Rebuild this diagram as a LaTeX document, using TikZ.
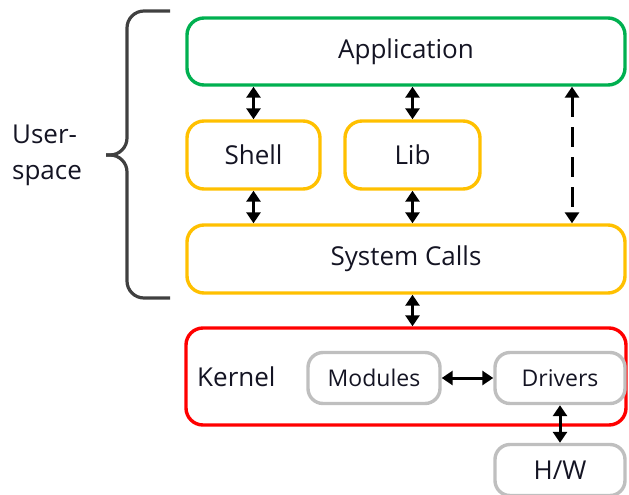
\documentclass[tikz,border=0pt]{standalone}
\usepackage{fontspec}
\setmainfont{Open Sans}
\usepackage{xcolor}
\usepackage{tikz}
\usetikzlibrary{arrows.meta,positioning,calc}

\definecolor{appgreen}{RGB}{0,176,80}
\definecolor{usrorange}{RGB}{255,192,0}
\definecolor{kred}{RGB}{255,0,0}
\definecolor{hwgray}{RGB}{191,191,191}
\definecolor{brgray}{RGB}{64,64,64}
\definecolor{txt}{RGB}{20,20,35}

\begin{document}
\begin{tikzpicture}[
  x=1pt, y=-1pt,
  font=\fontsize{26}{30}\selectfont, text=txt,
  box/.style={draw, rounded corners=17pt, line width=3.4pt, align=center,
              inner sep=0pt},
  appbox/.style={box, draw=appgreen},
  usrbox/.style={box, draw=usrorange},
  kbox/.style={box, draw=kred},
  hwbox/.style={box, draw=hwgray, rounded corners=15pt,
                font=\fontsize{23}{27}\selectfont},
  lbl/.style={inner sep=0pt, align=left},
  ar/.style={{Triangle[length=11pt,width=14pt]}-{Triangle[length=11pt,width=14pt]},
             line width=3pt},
  dar/.style={ar, dash pattern=on 20pt off 10pt},
  brc/.style={line width=3.2pt, draw=brgray, rounded corners=17pt}
]
\useasboundingbox (0,0) rectangle (629,495);

% --- user space ---------------------------------------------------------
\node[appbox, minimum width=438pt, minimum height=67pt] (app) at (406,51.5) {Application};
\node[usrbox, minimum width=133pt, minimum height=68pt] (shell) at (253.5,155) {Shell};
\node[usrbox, minimum width=135pt, minimum height=68pt] (lib) at (412.5,155) {Lib};
\node[usrbox, minimum width=438pt, minimum height=68pt] (sys) at (406,259) {System Calls};

% --- kernel -------------------------------------------------------------
\node[kbox, minimum width=440pt, minimum height=97pt] (kern) at (406,376.5) {};
\node[lbl, anchor=west] (klbl) at (197,377) {Kernel};
\node[hwbox, minimum width=132pt, minimum height=51pt] (mod) at (374,378) {Modules};
\node[hwbox, minimum width=130pt, minimum height=51pt] (drv) at (560,378) {Drivers};
\node[hwbox, minimum width=130pt, minimum height=51pt, font=\fontsize{26}{30}\selectfont] (hw) at (560,470) {H/W};

% --- side label ---------------------------------------------------------
\node[lbl, font=\fontsize{26}{36}\selectfont] (usr) at (47,155) {User-\\space};
\draw[brc] (170,11) -- (127,11) -- (127,155) -- (106,155);
\draw[brc] (106,155) -- (127,155) -- (127,298) -- (170,298);

% --- connectors ---------------------------------------------------------
\coordinate (dx) at (572,0);
\draw[ar] (app.south -| shell) -- (shell.north);
\draw[ar] (app.south -| lib) -- (lib.north);
\draw[dar] (app.south -| dx) -- (sys.north -| dx);
\draw[ar] (shell.south) -- (sys.north -| shell);
\draw[ar] (lib.south) -- (sys.north -| lib);
\draw[ar] (sys.south -| lib) -- (kern.north -| lib);
\draw[ar] (mod.east) -- (drv.west);
\draw[ar] (drv.south) -- (hw.north);

\end{tikzpicture}
\end{document}
